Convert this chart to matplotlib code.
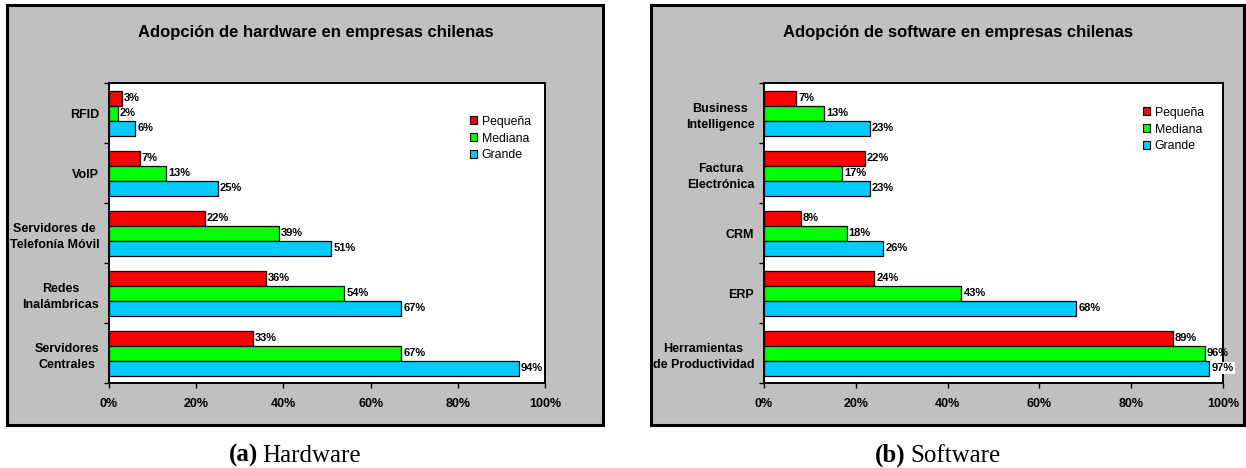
import matplotlib
matplotlib.use("Agg")
import matplotlib.pyplot as plt
from matplotlib.patches import Rectangle, Patch
import numpy as np

plt.rcParams['font.family'] = ['Liberation Sans', 'DejaVu Sans']

# data, categories listed bottom -> top
hw_cats = ["Servidores\nCentrales", "Redes\nInalámbricas", "Servidores de\nTelefonía Móvil", "VoIP", "RFID"]
hw_pequena = [33, 36, 22, 7, 3]
hw_mediana = [67, 54, 39, 13, 2]
hw_grande = [94, 67, 51, 25, 6]

sw_cats = ["Herramientas\nde Productividad", "ERP", "CRM", "Factura\nElectrónica", "Business\nIntelligence"]
sw_pequena = [89, 24, 8, 22, 7]
sw_mediana = [96, 43, 18, 17, 13]
sw_grande = [97, 68, 26, 23, 23]

series_names = ["Pequeña", "Mediana", "Grande"]
colors = ["#FF0000", "#00FF00", "#00CCFF"]
x_ticks = [0, 20, 40, 60, 80, 100]

W, H = 1246, 468
fig = plt.figure(figsize=(W / 100, H / 100), dpi=100)
fig.patch.set_facecolor("white")


def fx(px):
    return px / W


def fy(py):
    return 1 - py / H


def frame(x0, y0, x1, y1):
    r = Rectangle((fx(x0), fy(y1)), fx(x1) - fx(x0), fy(y0) - fy(y1),
                  transform=fig.transFigure, facecolor="#C0C0C0",
                  edgecolor="black", lw=2.2, zorder=0)
    fig.add_artist(r)


def panel(box, cats, vals, title, title_x, legend_xy):
    x0, y0, x1, y1 = box
    ax = fig.add_axes([fx(x0), fy(y1), fx(x1) - fx(x0), fy(y0) - fy(y1)])
    ax.set_facecolor("white")
    n = len(cats)
    y = np.arange(n)
    h = 0.25
    offsets = [h, 0, -h]
    for v, c, off in zip(vals, colors, offsets):
        bars = ax.barh(y + off, v, height=h, color=c, edgecolor="black", lw=0.9, zorder=2)
        for b, val in zip(bars, v):
            kw = {}
            if val >= 97:
                kw["bbox"] = dict(facecolor="white", edgecolor="none", pad=1.0)
            ax.annotate(f"{val}%", (val, b.get_y() + b.get_height() / 2),
                        xytext=(1.5, 0), textcoords="offset points",
                        ha="left", va="center", fontsize=8, fontweight="bold",
                        annotation_clip=False, zorder=5, **kw)
    ax.set_xlim(0, 100)
    ax.set_ylim(-0.5, n - 0.5)
    ax.set_xticks(x_ticks)
    ax.set_xticklabels([f"{t}%" for t in x_ticks], fontsize=9, fontweight="bold")
    ax.set_yticks(y)
    ax.set_yticklabels(cats, fontsize=9, fontweight="bold", multialignment="center",
                       linespacing=1.45)
    ax.set_yticks(np.arange(-0.5, n), minor=True)
    ax.tick_params(axis="y", which="major", length=0, pad=7)
    ax.tick_params(axis="y", which="minor", length=3.5, width=1, direction="out")
    ax.tick_params(axis="x", length=3.5, width=1, direction="out", pad=7)
    for s in ax.spines.values():
        s.set_color("black")
        s.set_linewidth(1.4)
    fig.text(fx(title_x), fy(33), title, ha="center", va="center",
             fontsize=12, fontweight="bold")
    handles = [Patch(facecolor=c, edgecolor="black", lw=0.8) for c in colors]
    fig.legend(handles, series_names, loc="center left",
               bbox_to_anchor=(fx(legend_xy[0]), fy(legend_xy[1])),
               frameon=False, fontsize=8.8, handlelength=0.6, handleheight=0.6,
               handletextpad=0.35, labelspacing=0.4, borderpad=0, borderaxespad=0)
    return ax


frame(7, 5, 603, 425)
frame(651, 5, 1244, 425)

panel((109, 83, 545, 383), hw_cats, [hw_pequena, hw_mediana, hw_grande],
      "Adopción de hardware en empresas chilenas", 316, (470, 138.5))
panel((764, 83, 1223, 383), sw_cats, [sw_pequena, sw_mediana, sw_grande],
      "Adopción de software en empresas chilenas", 958, (1143, 129.5))

# captions
cap = dict(fontsize=18, family=["Liberation Serif", "DejaVu Serif"], va="baseline")
fig.text(fx(258), fy(462), "(a)", ha="right", fontweight="bold", **cap)
fig.text(fx(262), fy(462), "Hardware", ha="left", **cap)
fig.text(fx(906), fy(462), "(b)", ha="right", fontweight="bold", **cap)
fig.text(fx(910), fy(462), "Software", ha="left", **cap)

fig.savefig("out.png", dpi=100)
